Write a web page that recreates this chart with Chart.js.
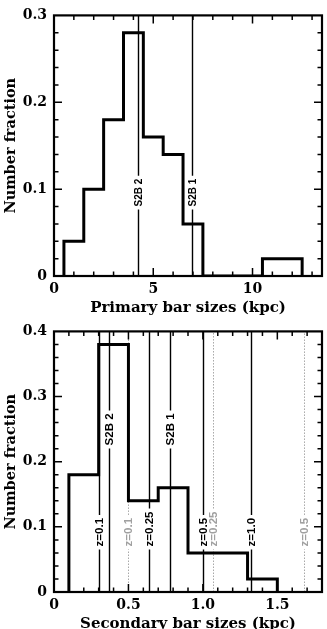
<!DOCTYPE html>
<html>
<head>
<meta charset="utf-8">
<script src="https://cdn.jsdelivr.net/npm/chart.js@4"></script>
<style>
  body { margin:0; background:#fff; overflow:hidden; width:327px; height:629px; position:relative; }
  canvas { position:absolute; left:0; }
  #topChart { top:0; }
  #botChart { top:316px; }
</style>
</head>
<body>
<canvas id="topChart" width="327" height="318"></canvas>
<canvas id="botChart" width="327" height="318"></canvas>
<script>
// primary bars (top panel)
var primaryEdges = [0.5, 1.5, 2.5, 3.5, 4.5, 5.5, 6.5, 7.5, 10.5, 12.5];
var primaryFrac  = [0.04, 0.10, 0.18, 0.28, 0.16, 0.14, 0.06, 0.00, 0.02];
var primaryMarkPos  = [4.22, 6.95];
var primaryMarkText = ['S2B 2', 'S2B 1'];
var primaryMarkKind = ['s2b', 's2b'];

// secondary bars (bottom panel)
var secondaryEdges = [0.1, 0.3, 0.5, 0.7, 0.9, 1.3, 1.5];
var secondaryFrac  = [0.18, 0.38, 0.14, 0.16, 0.06, 0.02];
var secondaryMarkPos  = [0.30, 0.37, 0.50, 0.64, 0.78, 1.00, 1.07, 1.32, 1.68];
var secondaryMarkText = ['z=0.1', 'S2B 2', 'z=0.1', 'z=0.25', 'S2B 1', 'z=0.5', 'z=0.25', 'z=1.0', 'z=0.5'];
var secondaryMarkKind = ['z', 's2b', 'zgrey', 'z', 's2b', 'z', 'zgrey', 'z', 'zgrey'];

var serif = '"DejaVu Serif", serif';
var sans = '"Liberation Sans", Arial, sans-serif';

function stepPoints(edges, vals) {
  var pts = [{x: edges[0], y: 0}];
  for (var i = 0; i < vals.length; i++) {
    pts.push({x: edges[i], y: vals[i]});
    pts.push({x: edges[i + 1], y: vals[i]});
  }
  pts.push({x: edges[edges.length - 1], y: 0});
  return pts;
}

// frame + inward ticks on all four sides
var framePlugin = {
  id: 'frame',
  afterDraw: function(chart, args, opts) {
    var ctx = chart.ctx, a = chart.chartArea;
    var xs = chart.scales.x, ys = chart.scales.y;
    ctx.save();
    ctx.strokeStyle = '#000';
    ctx.lineWidth = 1.5;
    function marks(scale, minor, major, horiz) {
      var n = Math.round((scale.max - scale.min) / minor);
      for (var i = 1; i <= n; i++) {
        var v = scale.min + i * minor;
        var r = v / major;
        var len = Math.abs(r - Math.round(r)) < 1e-6 ? 8 : 4.5;
        var p = scale.getPixelForValue(v);
        ctx.beginPath();
        if (horiz) {
          if (p >= a.right - 1) continue;
          ctx.moveTo(p, a.bottom); ctx.lineTo(p, a.bottom - len);
          ctx.moveTo(p, a.top); ctx.lineTo(p, a.top + len);
        } else {
          if (p <= a.top + 1) continue;
          ctx.moveTo(a.left, p); ctx.lineTo(a.left + len, p);
          ctx.moveTo(a.right, p); ctx.lineTo(a.right - len, p);
        }
        ctx.stroke();
      }
    }
    marks(xs, opts.xMinor, opts.xMajor, true);
    marks(ys, opts.yMinor, opts.yMajor, false);
    ctx.lineWidth = 2.2;
    ctx.strokeRect(a.left, a.top, a.right - a.left, a.bottom - a.top);
    ctx.restore();
  }
};

// vertical reference lines with rotated labels
var markerPlugin = {
  id: 'markers',
  beforeDatasetsDraw: function(chart, args, opts) {
    var ctx = chart.ctx, a = chart.chartArea;
    var xs = chart.scales.x, ys = chart.scales.y;
    ctx.save();
    ctx.font = 'bold ' + opts.fontSize + 'px ' + sans;
    for (var i = 0; i < opts.pos.length; i++) {
      var kind = opts.kind[i];
      var grey = kind === 'zgrey';
      var x = Math.round(xs.getPixelForValue(opts.pos[i])) + 0.5;
      var y0 = ys.getPixelForValue(kind === 's2b' ? opts.s2bAt : opts.zAt);
      var len = ctx.measureText(opts.text[i]).width;
      var gapBot = y0 + 3, gapTop = y0 - len - 3;
      ctx.strokeStyle = grey ? '#a8a8a8' : '#000';
      ctx.lineWidth = grey ? 1 : 1.4;
      ctx.setLineDash(grey ? [1.5, 1.5] : []);
      ctx.beginPath();
      ctx.moveTo(x, a.bottom); ctx.lineTo(x, gapBot);
      ctx.moveTo(x, gapTop); ctx.lineTo(x, a.top);
      ctx.stroke();
      ctx.save();
      ctx.translate(x + 0.5, y0);
      ctx.rotate(-Math.PI / 2);
      ctx.fillStyle = grey ? '#a0a0a0' : '#000';
      ctx.textAlign = 'left';
      ctx.textBaseline = 'middle';
      ctx.fillText(opts.text[i], 0, 0);
      ctx.restore();
    }
    ctx.restore();
  }
};

function makeChart(id, edges, vals, xMax, xStep, xMinor, yMax, xTitle, marks) {
  return new Chart(document.getElementById(id), {
    type: 'scatter',
    data: {
      datasets: [{
        data: stepPoints(edges, vals),
        showLine: true,
        borderColor: '#000',
        borderWidth: 3,
        borderJoinStyle: 'miter',
        pointRadius: 0,
        tension: 0
      }]
    },
    options: {
      responsive: false,
      animation: false,
      devicePixelRatio: 1,
      layout: { padding: { top: 9, right: 5, left: 0, bottom: 0 } },
      plugins: {
        legend: { display: false },
        tooltip: { enabled: false },
        frame: { xMinor: xMinor, xMajor: xStep, yMinor: 0.02, yMajor: 0.1 },
        markers: marks
      },
      scales: {
        x: {
          type: 'linear', min: 0, max: xMax,
          grid: { display: false, drawTicks: false },
          border: { display: false },
          ticks: { stepSize: xStep, includeBounds: false, autoSkip: false, maxRotation: 0,
                   padding: 5, color: '#000', font: { family: serif, size: 14, weight: 'bold' } },
          title: { display: true, text: xTitle, color: '#000', padding: { top: 0, bottom: 1 },
                   font: { family: serif, size: 15, weight: 'bold' } },
          afterFit: function(s) { s.height = 42; }
        },
        y: {
          min: 0, max: yMax,
          grid: { display: false, drawTicks: false },
          border: { display: false },
          ticks: { stepSize: 0.1, autoSkip: false, padding: 7, color: '#000',
                   font: { family: serif, size: 14, weight: 'bold' } },
          title: { display: true, text: 'Number fraction', color: '#000', padding: { top: 3, bottom: 0 },
                   font: { family: serif, size: 14.5, weight: 'bold' } },
          afterFit: function(s) { s.width = 54; }
        }
      }
    },
    plugins: [markerPlugin, framePlugin]
  });
}

makeChart('topChart', primaryEdges, primaryFrac, 13.5, 5, 1, 0.3, 'Primary bar sizes (kpc)', {
  pos: primaryMarkPos, text: primaryMarkText, kind: primaryMarkKind,
  s2bAt: 0.08, zAt: 0.07, fontSize: 10
});

makeChart('botChart', secondaryEdges, secondaryFrac, 1.8, 0.5, 0.1, 0.4, 'Secondary bar sizes (kpc)', {
  pos: secondaryMarkPos, text: secondaryMarkText, kind: secondaryMarkKind,
  s2bAt: 0.225, zAt: 0.07, fontSize: 11.5
});
</script>
</body>
</html>
